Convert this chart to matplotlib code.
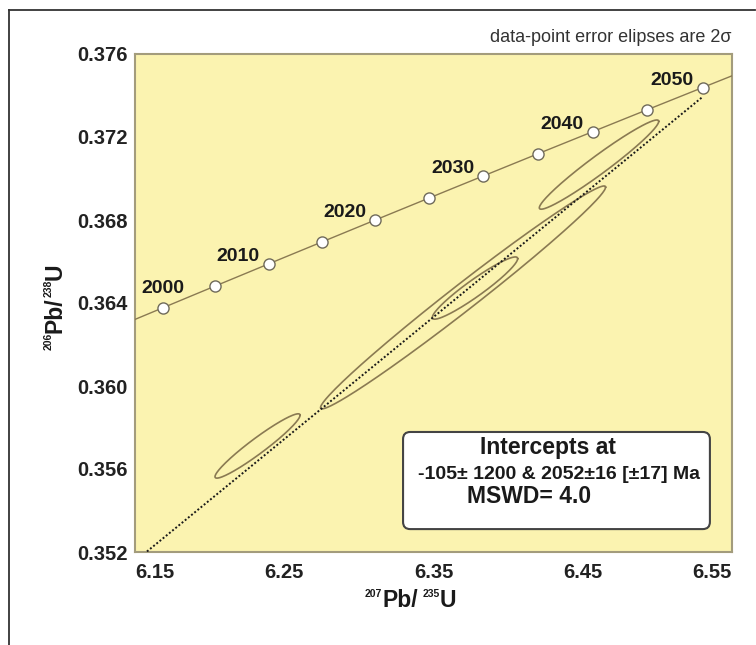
import numpy as np
import matplotlib
matplotlib.use("Agg")
import matplotlib.pyplot as plt
from matplotlib.lines import Line2D
from matplotlib.patches import FancyBboxPatch

plt.rcParams["font.family"] = ["Liberation Sans", "DejaVu Sans"]

# U decay constants (1/yr)
LAMBDA_238 = 1.55125e-10
LAMBDA_235 = 9.8485e-10

# concordia age ticks (Ma)
tick_ages = [2000, 2005, 2010, 2015, 2020, 2025, 2030, 2035, 2040, 2045, 2050]
labelled_ages = [2000, 2010, 2020, 2030, 2040, 2050]
curve_age_range = [1995, 2060]

# 2-sigma error ellipses: 207Pb/235U, 206Pb/238U, half-widths, error correlation
ell_x = [6.2321, 6.3698, 6.3778, 6.4609]
ell_sx = [0.0285, 0.0955, 0.0286, 0.0400]
ell_y = [0.35711, 0.36427, 0.36472, 0.37067]
ell_sy = [0.00155, 0.00537, 0.00150, 0.00215]
ell_rho = [0.955, 0.989, 0.945, 0.968]

# discordia intercepts (Ma) and drawn x-extent
lower_intercept = -105
upper_intercept = 2052
discordia_x = [6.158, 6.530]

x_ticks = [6.15, 6.25, 6.35, 6.45, 6.55]
y_ticks = [0.352, 0.356, 0.360, 0.364, 0.368, 0.372, 0.376]


def concordia(age_ma):
    t = np.asarray(age_ma, dtype=float) * 1e6
    return np.exp(LAMBDA_235 * t) - 1, np.exp(LAMBDA_238 * t) - 1


def error_ellipse(cx, cy, sx, sy, rho, n=240):
    a = np.linspace(0, 2 * np.pi, n)
    x = cx + sx * np.cos(a)
    y = cy + sy * (rho * np.cos(a) + np.sqrt(1 - rho ** 2) * np.sin(a))
    return x, y


W, H = 756, 645
fig = plt.figure(figsize=(W / 100, H / 100), dpi=100)
ax = fig.add_axes([135 / W, 93 / H, 597 / W, 498 / H])
ax.set_facecolor("#fbf3b0")

# outer frame (left and top only)
frame_kw = dict(transform=fig.transFigure, color="#333333", lw=1.3)
fig.add_artist(Line2D([9 / W, 9 / W], [0, 1 - 10 / H], **frame_kw))
fig.add_artist(Line2D([9 / W, 755 / W], [1 - 10 / H, 1 - 10 / H], **frame_kw))

olive = "#8a7a52"

for cx, sx, cy, sy, r in zip(ell_x, ell_sx, ell_y, ell_sy, ell_rho):
    ex, ey = error_ellipse(cx, cy, sx, sy, r)
    ax.plot(ex, ey, color=olive, lw=1.2, zorder=2)

# discordia through both intercepts
lx, ly = concordia([lower_intercept, upper_intercept])
slope = (ly[1] - ly[0]) / (lx[1] - lx[0])
dx = np.array(discordia_x)
dy = ly[1] + slope * (dx - lx[1])
ax.plot(dx, dy, color="#1a1a1a", lw=1.4, ls=(0, (1, 1.1)), zorder=3)

# concordia curve and age markers
cages = np.linspace(curve_age_range[0], curve_age_range[1], 300)
cx_, cy_ = concordia(cages)
ax.plot(cx_, cy_, color=olive, lw=1.0, zorder=4)
mx, my = concordia(tick_ages)
ax.plot(mx, my, ls="none", marker="o", ms=8, mfc="white", mec="#6f6a5a",
        mew=1.0, zorder=5)

lab_x, lab_y = concordia(labelled_ages)
for age, x, y in zip(labelled_ages, lab_x, lab_y):
    if age == 2000:
        off, ha = (0, 19), "center"
    else:
        off, ha = (-9, 7), "right"
    ax.annotate(str(age), (x, y), xytext=off, textcoords="offset pixels",
                ha=ha, va="center", fontsize=14, fontweight="bold",
                color="#1a1a1a", zorder=6)

ax.set_xlim(6.15, 6.55)
ax.set_ylim(0.352, 0.376)
ax.set_xticks(x_ticks)
ax.set_xticklabels([f"{v:.2f}" for v in x_ticks])
ax.set_yticks(y_ticks)
ax.set_yticklabels([f"{v:.3f}" for v in y_ticks])
ax.tick_params(length=0, labelsize=14.5, colors="#222222")
ax.tick_params(axis="x", pad=8)
ax.tick_params(axis="y", pad=5)
for lab in ax.get_xticklabels() + ax.get_yticklabels():
    lab.set_fontweight("bold")
ax.get_xticklabels()[0].set_ha("left")
ax.get_xticklabels()[-1].set_ha("right")

for s in ax.spines.values():
    s.set_color("#a39c7c")
    s.set_linewidth(1.5)

# axis titles built from pieces so the isotope numbers stay small
big = dict(fontsize=16.5, fontweight="bold", color="#1a1a1a")
small = dict(fontsize=7.5, fontweight="bold", color="#1a1a1a")

xb = fig.text(382 / W, 1 - 607 / H, "Pb/", ha="left", va="baseline", **big)
ax.annotate("207", xy=(0, 1), xycoords=xb, ha="right", va="top",
            annotation_clip=False, **small)
xs = ax.annotate("235", xy=(1, 1), xycoords=xb, xytext=(5, 0),
                 textcoords="offset pixels", ha="left", va="top",
                 annotation_clip=False, **small)
ax.annotate("U", xy=(1, 0), xycoords=(xs, xb), ha="left", va="bottom",
            annotation_clip=False, **big)

yb = fig.text(55 / W, 1 - 333 / H, "Pb/", rotation=90, ha="center",
              va="bottom", **big)
ax.annotate("206", xy=(0, 0), xycoords=yb, rotation=90, ha="left", va="top",
            annotation_clip=False, **small)
ys = ax.annotate("238", xy=(0, 1), xycoords=yb, rotation=90, ha="left",
                 va="bottom", annotation_clip=False, **small)
ax.annotate("U", xy=(0, 1), xycoords=(yb, ys), rotation=90, ha="left",
            va="bottom", annotation_clip=False, **big)

fig.text(732 / W, 1 - 37 / H, "data-point error elipses are 2σ",
         ha="right", va="center", fontsize=13, color="#333333")

# result box
box = FancyBboxPatch((0.449, 0.046), 0.514, 0.195,
                     boxstyle="round,pad=0,rounding_size=0.012",
                     mutation_aspect=597 / 498, transform=ax.transAxes,
                     fc="white", ec="#444444", lw=1.5, zorder=7)
ax.add_patch(box)
ax.text(0.692, 0.209, "Intercepts at", transform=ax.transAxes, ha="center",
        va="center", fontsize=16.5, fontweight="bold", color="#1a1a1a", zorder=8)
ax.text(0.710, 0.155, f"{lower_intercept}± 1200 & {upper_intercept}±16 [±17] Ma",
        transform=ax.transAxes, ha="center", va="center", fontsize=14,
        fontweight="bold", color="#1a1a1a", zorder=8)
ax.text(0.660, 0.112, "MSWD= 4.0", transform=ax.transAxes, ha="center",
        va="center", fontsize=16.5, fontweight="bold", color="#1a1a1a", zorder=8)

fig.savefig("out.png", dpi=100)
